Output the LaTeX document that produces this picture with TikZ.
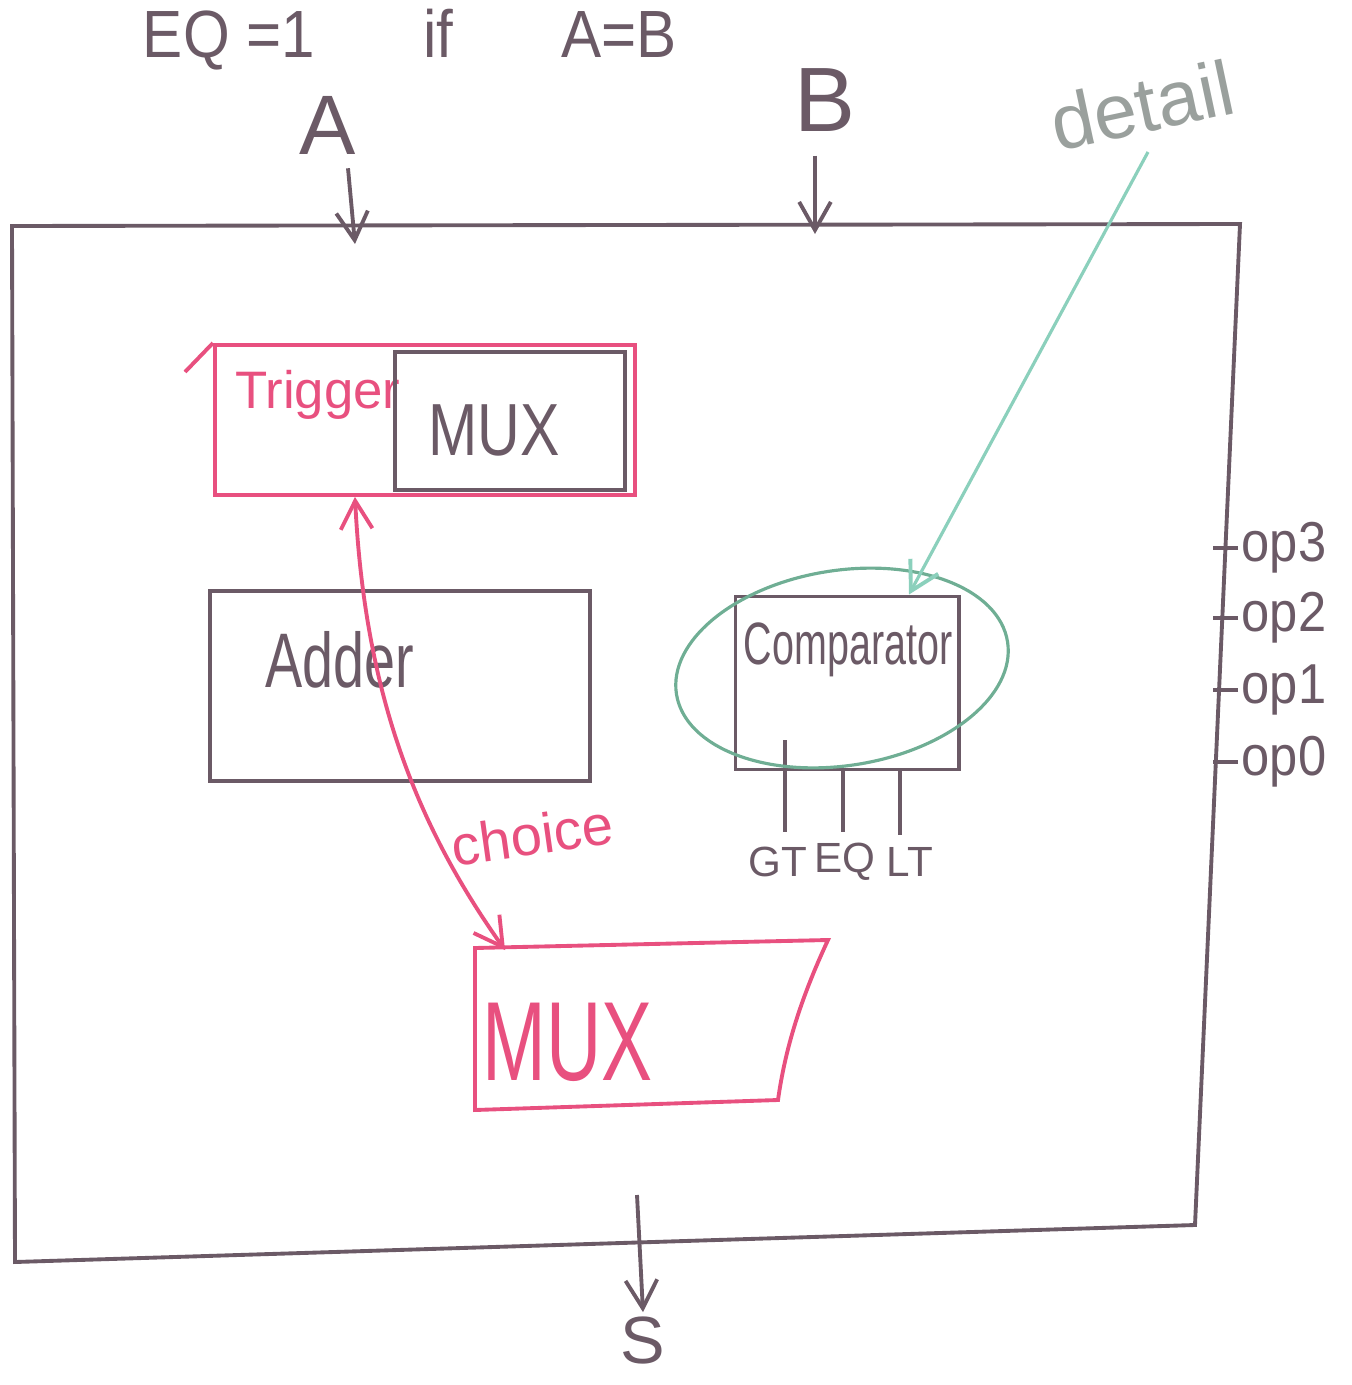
\documentclass[tikz,border=0pt]{standalone}
\usepackage{fontspec}
\setmainfont{Liberation Sans}
\usetikzlibrary{arrows.meta,shapes.geometric,calc}
\definecolor{ink}{HTML}{6B5A66}
\definecolor{pinkink}{HTML}{E8507F}
\definecolor{tealink}{HTML}{8BD0BC}
\definecolor{greenink}{HTML}{6FAE94}
\definecolor{pencil}{HTML}{9AA09D}
\begin{document}
\begin{tikzpicture}[x=0.01cm,y=-0.01cm,
  line/.style={draw=ink,line width=1.1pt},
  pline/.style={draw=pinkink,line width=1.1pt},
  block/.style={line,inner sep=0pt},
  pblock/.style={pline,inner sep=0pt},
  txt/.style={text=ink,inner sep=1pt},
  ptxt/.style={text=pinkink,inner sep=1pt},
  barb/.style={-{Straight Barb[length=8pt,width=9pt,line width=1.1pt]}},
  dbarb/.style={{Straight Barb[length=8pt,width=9pt,line width=1.1pt]}-{Straight Barb[length=8pt,width=9pt,line width=1.1pt]}}
]
\useasboundingbox (0,0) rectangle (1352,1385);

% top note
\node[txt,font=\fontsize{19}{21}\selectfont,xscale=0.9] (note) at (410,40) {EQ =1\hspace{1.8em}if\hspace{1.8em}A=B};

% main box
\coordinate (tl) at (12,226);
\coordinate (tr) at (1240,224);
\coordinate (br) at (1195,1225);
\coordinate (bl) at (15,1262);
\draw[line] (tl) -- (tr) -- (br) -- (bl) -- cycle;

% inputs
\node[txt,font=\fontsize{24}{26}\selectfont] (A) at (328,125) {A};
\node[txt,font=\fontsize{26}{28}\selectfont] (B) at (825,100) {B};
\coordinate (Ain) at (355,244);
\coordinate (Bin) at (815,234);
\draw[line,barb] (A.south) ++(20,10) -- (Ain);
\draw[line,barb] (B.south) ++(-10,20) -- (Bin);

% output S
\coordinate (Sout) at (637,1195);
\node[txt,font=\fontsize{19}{21}\selectfont] (S) at (643,1340) {S};
\draw[line,barb] (Sout) -- (S.north);

% trigger + mux
\node[pblock,minimum width=4.2cm,minimum height=1.5cm] (trig) at (425,420) {};
\draw[pline] (185,372) -- (trig.north west);
\node[ptxt,font=\fontsize{15}{17}\selectfont] (trigtxt) at (318,395) {Trigger};
\node[block,minimum width=2.3cm,minimum height=1.38cm] (mux1) at (510,421) {};
\node[txt,font=\fontsize{21}{23}\selectfont,xscale=0.8] (mux1txt) at (494,430) {MUX};

% adder
\node[block,minimum width=3.8cm,minimum height=1.9cm] (adder) at (400,686) {};
\node[txt,font=\fontsize{22}{24}\selectfont,xscale=0.72] (addtxt) at (340,660) {Adder};

% comparator
\node[block,minimum width=2.23cm,minimum height=1.73cm] (cmp) at (847,683) {};
\node[txt,font=\fontsize{17}{19}\selectfont,xscale=0.66] (cmptxt) at (848,650) {Comparator};
\node[txt,font=\fontsize{12}{14}\selectfont] (gt) at (778,862) {GT};
\node[txt,font=\fontsize{12}{14}\selectfont] (eq) at (845,862) {EQ};
\node[txt,font=\fontsize{12}{14}\selectfont] (lt) at (910,862) {LT};
\draw[line] (785,740) -- (785,832);
\draw[line] (843,768) -- (843,832);
\draw[line] (900,768) -- (900,835);

% focus ellipse and detail
\node[ellipse,draw=greenink,line width=0.9pt,minimum width=3.35cm,minimum height=1.95cm,rotate=9] (focus) at (842,668) {};
\node[text=pencil,font=\fontsize{22}{24}\selectfont,rotate=12,inner sep=0pt] (detail) at (1142,105) {detail};
\draw[draw=tealink,line width=0.9pt,barb] (1148,152) -- ($(cmp.north)+(62,0)$);

% ops
\foreach \y/\lab in {548/op3,618/op2,690/op1,762/op0}{
  \node[txt,anchor=west,font=\fontsize{16}{18}\selectfont,xscale=0.9] (\lab) at (1238,\y) {\lab};
  \draw[line] (\lab.west) -- ++(-25,0);
}

% bottom mux
\coordinate (m1) at (475,948);
\coordinate (m2) at (828,940);
\coordinate (m3) at (778,1100);
\coordinate (m4) at (475,1110);
\draw[pline] (m1) -- (m2) .. controls (800,1000) and (785,1050) .. (m3) -- (m4) -- cycle;
\node[ptxt,font=\fontsize{32}{34}\selectfont,xscale=0.68] (mux2txt) at (568,1042) {MUX};

% choice arrow
\coordinate (chin) at (505,950);
\draw[pline,dbarb] (trig.south) ++(-70,0) .. controls (365,700) and (420,830) .. (chin);
\node[ptxt,font=\fontsize{16}{18}\selectfont,rotate=8] (choice) at (532,835) {choice};

\end{tikzpicture}
\end{document}
